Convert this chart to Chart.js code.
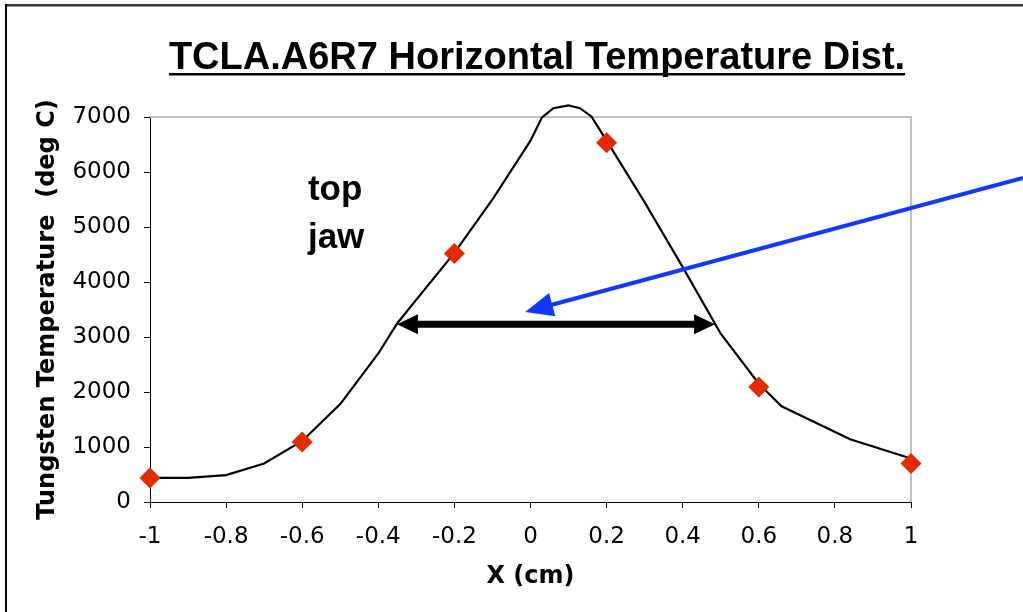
<!DOCTYPE html>
<html>
<head>
<meta charset="utf-8">
<script src="https://cdn.jsdelivr.net/npm/chart.js@4"></script>
<style>
   body { margin: 0; background: #fff; }
   canvas { display: block; }
</style>
</head>
<body>
<canvas id="chart" width="1023" height="612"></canvas>
<script>
// curve (black line)
const curveX = [-1, -0.9, -0.8, -0.7, -0.6, -0.5, -0.4, -0.35, -0.3, -0.2, -0.1, 0, 0.03, 0.06, 0.1, 0.13, 0.16, 0.2, 0.3, 0.4, 0.5, 0.6, 0.66, 0.84, 1];
const curveY = [440, 440, 490, 700, 1110, 1780, 2700, 3250, 3680, 4530, 5500, 6570, 6990, 7160, 7210, 7160, 7010, 6570, 5450, 4270, 3060, 2150, 1740, 1140, 790];

// measured points (red diamonds)
const pointX = [-1, -0.6, -0.2, 0.2, 0.6, 1];
const pointY = [435, 1090, 4520, 6530, 2090, 700];

// axis ticks
const xTicks = [-1, -0.8, -0.6, -0.4, -0.2, 0, 0.2, 0.4, 0.6, 0.8, 1];
const yTicks = [0, 1000, 2000, 3000, 4000, 5000, 6000, 7000];

// annotations, in data units
const widthArrow = { x1: -0.351, x2: 0.485, y: 3230 };
const blueArrow = { x1: 1.294, y1: 5890, x2: -0.014, y2: 3455 };
const jawLabel = { x: -0.585, lines: ["top", "jaw"], y: [5660, 4800] };

const titleText = "TCLA.A6R7 Horizontal Temperature Dist.";

function arrowHead(ctx, x1, y1, x2, y2, len, half) {
   const a = Math.atan2(y2 - y1, x2 - x1);
   ctx.beginPath();
   ctx.moveTo(x2, y2);
   ctx.lineTo(x2 - len * Math.cos(a) + half * Math.sin(a), y2 - len * Math.sin(a) - half * Math.cos(a));
   ctx.lineTo(x2 - len * Math.cos(a) - half * Math.sin(a), y2 - len * Math.sin(a) + half * Math.cos(a));
   ctx.closePath();
   ctx.fill();
}

const decorations = {
   id: "decorations",
   beforeDraw(chart) {
      const ctx = chart.ctx;
      ctx.save();
      ctx.fillStyle = "#fff";
      ctx.fillRect(0, 0, chart.width, chart.height);
      // outer frame
      ctx.fillStyle = "#333";
      ctx.fillRect(5, 4, chart.width - 5, 2.5);
      ctx.fillStyle = "#000";
      ctx.fillRect(5, 4, 2, chart.height);
      ctx.restore();
   },
   beforeDatasetsDraw(chart) {
      const { ctx, chartArea: a } = chart;
      ctx.save();
      ctx.strokeStyle = "#c0c0c0";
      ctx.lineWidth = 2;
      ctx.beginPath();
      ctx.moveTo(a.left, a.top);
      ctx.lineTo(a.right, a.top);
      ctx.lineTo(a.right, a.bottom);
      ctx.stroke();
      ctx.restore();
   },
   afterDraw(chart) {
      const { ctx, scales } = chart;
      const xs = scales.x, ys = scales.y;
      ctx.save();

      // title with underline
      ctx.font = 'bold 38px "Liberation Sans", Arial, sans-serif';
      ctx.fillStyle = "#000";
      ctx.textAlign = "center";
      ctx.textBaseline = "alphabetic";
      const cx = 537;
      ctx.fillText(titleText, cx, 69);
      const w = ctx.measureText(titleText).width;
      ctx.fillRect(cx - w / 2, 73, w, 2.5);

      // "top jaw"
      ctx.font = 'bold 35px "Liberation Sans", Arial, sans-serif';
      ctx.textAlign = "left";
      ctx.textBaseline = "middle";
      jawLabel.lines.forEach((t, i) => {
         ctx.fillText(t, xs.getPixelForValue(jawLabel.x), ys.getPixelForValue(jawLabel.y[i]));
      });

      // black double arrow
      const ax1 = xs.getPixelForValue(widthArrow.x1);
      const ax2 = xs.getPixelForValue(widthArrow.x2);
      const ay = ys.getPixelForValue(widthArrow.y);
      ctx.strokeStyle = "#000";
      ctx.fillStyle = "#000";
      ctx.lineWidth = 7;
      ctx.beginPath();
      ctx.moveTo(ax1 + 15, ay);
      ctx.lineTo(ax2 - 15, ay);
      ctx.stroke();
      arrowHead(ctx, ax2, ay, ax1, ay, 21, 10);
      arrowHead(ctx, ax1, ay, ax2, ay, 21, 10);

      // blue pointer arrow
      const bx1 = xs.getPixelForValue(blueArrow.x1);
      const by1 = ys.getPixelForValue(blueArrow.y1);
      const bx2 = xs.getPixelForValue(blueArrow.x2);
      const by2 = ys.getPixelForValue(blueArrow.y2);
      const ang = Math.atan2(by2 - by1, bx2 - bx1);
      ctx.strokeStyle = "#1238ff";
      ctx.fillStyle = "#1238ff";
      ctx.lineWidth = 4;
      ctx.beginPath();
      ctx.moveTo(bx1, by1);
      ctx.lineTo(bx2 - 20 * Math.cos(ang), by2 - 20 * Math.sin(ang));
      ctx.stroke();
      arrowHead(ctx, bx1, by1, bx2, by2, 28, 12);

      ctx.restore();
   },
};

const tickFont = { family: '"DejaVu Sans", Verdana, sans-serif', size: 23 };
const titleFont = { family: '"DejaVu Sans", Verdana, sans-serif', size: 24, weight: "bold" };

new Chart(document.getElementById("chart"), {
   type: "scatter",
   data: {
      datasets: [
         {
            label: "curve",
            data: curveX.map((x, i) => ({ x: x, y: curveY[i] })),
            showLine: true,
            borderColor: "#000",
            borderWidth: 2.2,
            pointRadius: 0,
            tension: 0,
            clip: false,
            order: 2,
         },
         {
            label: "points",
            data: pointX.map((x, i) => ({ x: x, y: pointY[i] })),
            showLine: false,
            pointStyle: "rectRot",
            pointRadius: 10.5,
            backgroundColor: "#e62a00",
            borderColor: "#e62a00",
            borderWidth: 0,
            clip: false,
            order: 1,
         },
      ],
   },
   options: {
      responsive: false,
      animation: false,
      layout: { padding: { left: 0, top: 117, right: 112, bottom: 0 } },
      plugins: {
         legend: { display: false },
         tooltip: { enabled: false },
      },
      scales: {
         x: {
            type: "linear",
            min: -1,
            max: 1,
            afterBuildTicks: (s) => { s.ticks = xTicks.map((v) => ({ value: v })); },
            afterFit: (s) => { s.height = 110; },
            ticks: {
               font: tickFont,
               color: "#000",
               padding: 15,
               maxRotation: 0,
               callback: (v) => String(Math.round(v * 10) / 10),
            },
            grid: { display: true, drawOnChartArea: false, drawTicks: true, tickLength: 6, color: "#000" },
            border: { display: true, color: "#000", width: 1 },
            title: { display: true, text: "X (cm)", font: titleFont, color: "#000", padding: { bottom: 21 } },
         },
         y: {
            type: "linear",
            min: 0,
            max: 7000,
            afterBuildTicks: (s) => { s.ticks = yTicks.map((v) => ({ value: v })); },
            afterFit: (s) => { s.width = 150; },
            ticks: { font: tickFont, color: "#000", padding: 13, callback: (v) => String(v) },
            grid: { display: true, drawOnChartArea: false, drawTicks: true, tickLength: 6, color: "#000" },
            border: { display: true, color: "#000", width: 1 },
            title: {
               display: true,
               text: "Tungsten Temperature  (deg C)",
               font: titleFont,
               color: "#000",
               padding: { top: 33 },
            },
         },
      },
   },
   plugins: [decorations],
});
</script>
</body>
</html>
